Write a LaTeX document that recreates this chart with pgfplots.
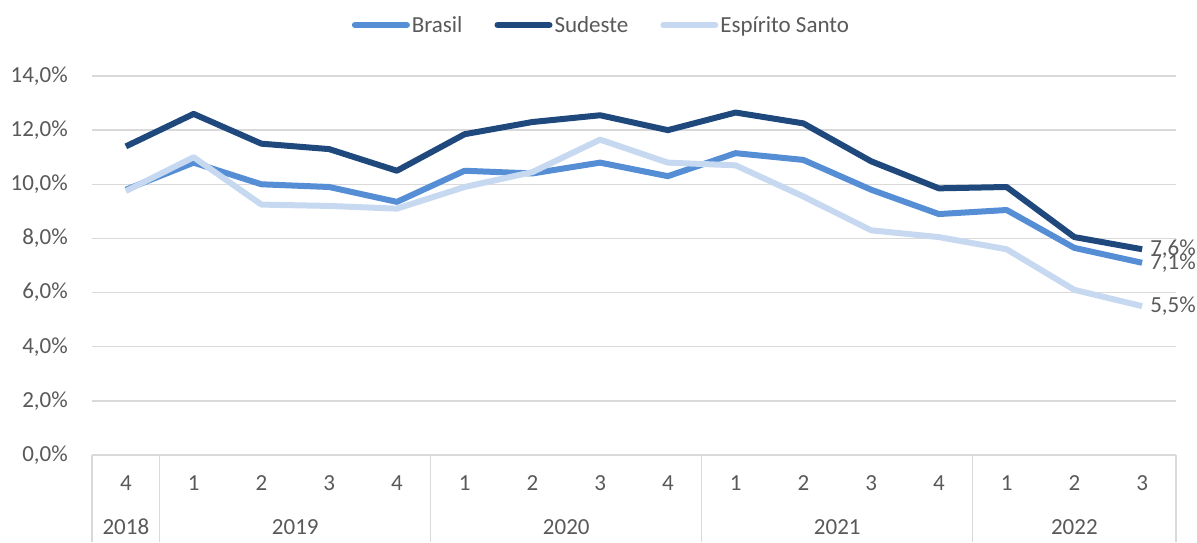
\documentclass[border=0pt]{standalone}
\usepackage{fontspec}
\setmainfont{Carlito}
\usepackage{pgfplots}
\pgfplotsset{compat=1.18}
\definecolor{brasil}{HTML}{558ED5}
\definecolor{sudeste}{HTML}{1F497D}
\definecolor{es}{HTML}{C6D9F1}
\definecolor{txt}{HTML}{595959}
\definecolor{gridc}{HTML}{D9D9D9}
\newcommand{\cf}{\fontsize{23}{27}\selectfont}
\begin{document}
\begin{tikzpicture}
\path[use as bounding box] (0,0) rectangle (1197pt,542pt);
\begin{axis}[
  at={(92pt,87pt)}, anchor=south west,
  scale only axis, width=1084pt, height=379pt,
  xmin=-0.5, xmax=15.5, ymin=0, ymax=14,
  clip=false,
  axis line style={draw=none},
  major tick length=0pt,
  ymajorgrids, grid style={gridc, line width=1.5pt},
  ytick={0,2,...,14},
  yticklabel={\pgfmathprintnumber{\tick}\%},
  /pgf/number format/.cd, fixed, fixed zerofill, precision=1, use comma, assume math mode=true,
  /pgfplots/.cd,
  xtick={0,...,15},
  xticklabels={4,1,2,3,4,1,2,3,4,1,2,3,4,1,2,3},
  tick label style={font=\cf, text=txt, inner sep=0pt},
  yticklabel style={anchor=east, xshift=-24pt},
  xticklabel style={anchor=center, yshift=-28pt},
  legend style={at={(0.47,1.1346)}, anchor=center, draw=none, fill=none,
    font=\cf, text=txt, legend columns=3,
    /tikz/every odd column/.append style={column sep=0pt},
    /tikz/every even column/.append style={column sep=30pt}},
  legend cell align=left,
  legend image code/.code={\draw[#1, line width=6pt, line cap=round] (0pt,0pt) -- (52pt,0pt);},
]
\addplot[brasil, line width=6pt, line join=round] coordinates {
(0,9.8) (1,10.8) (2,10.0) (3,9.9) (4,9.35) (5,10.5) (6,10.4) (7,10.8)
(8,10.3) (9,11.15) (10,10.9) (11,9.8) (12,8.9) (13,9.05) (14,7.65) (15,7.1)};
\addlegendentry{Brasil}
\addplot[sudeste, line width=6pt, line join=round] coordinates {
(0,11.4) (1,12.6) (2,11.5) (3,11.3) (4,10.5) (5,11.85) (6,12.3) (7,12.55)
(8,12.0) (9,12.65) (10,12.25) (11,10.85) (12,9.85) (13,9.9) (14,8.05) (15,7.6)};
\addlegendentry{Sudeste}
\addplot[es, line width=6pt, line join=round] coordinates {
(0,9.75) (1,11.0) (2,9.25) (3,9.2) (4,9.1) (5,9.9) (6,10.45) (7,11.65)
(8,10.8) (9,10.7) (10,9.55) (11,8.3) (12,8.05) (13,7.6) (14,6.1) (15,5.5)};
\addlegendentry{Espírito Santo}
\pgfplotsinvokeforeach{-0.5,0.5,4.5,8.5,12.5,15.5}{
  \draw[gridc, line width=1.5pt] (axis cs:#1,0) -- ++(0pt,-87pt);
}
\node[font=\cf, text=txt] at ([yshift=-72pt]axis cs:0,0) {2018};
\node[font=\cf, text=txt] at ([yshift=-72pt]axis cs:2.5,0) {2019};
\node[font=\cf, text=txt] at ([yshift=-72pt]axis cs:6.5,0) {2020};
\node[font=\cf, text=txt] at ([yshift=-72pt]axis cs:10.5,0) {2021};
\node[font=\cf, text=txt] at ([yshift=-72pt]axis cs:14,0) {2022};
\node[font=\cf, text=txt, anchor=west, inner sep=0pt] at ([xshift=8pt]axis cs:15,7.6) {7,6\%};
\node[font=\cf, text=txt, anchor=west, inner sep=0pt] at ([xshift=8pt]axis cs:15,7.1) {7,1\%};
\node[font=\cf, text=txt, anchor=west, inner sep=0pt] at ([xshift=8pt]axis cs:15,5.5) {5,5\%};
\end{axis}
\end{tikzpicture}
\end{document}
